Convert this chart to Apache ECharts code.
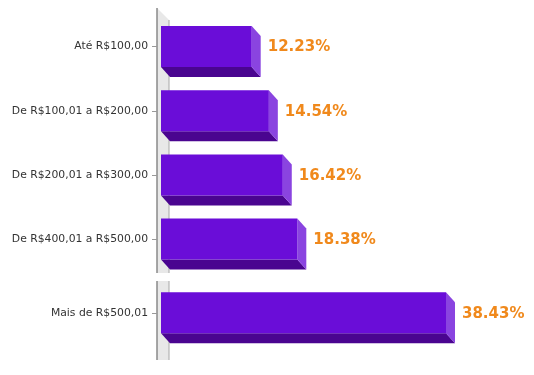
<!DOCTYPE html>
<html>
<head>
<meta charset="utf-8">
<script src="https://cdn.jsdelivr.net/npm/echarts@6/dist/echarts.min.js"></script>
<style>html,body{margin:0;padding:0;background:#fff}#c{width:534px;height:375px}</style>
</head>
<body>
<div id="c"></div>
<script>
const categoriesTop = ['Até R$100,00', 'De R$100,01 a R$200,00', 'De R$200,01 a R$300,00', 'De R$400,01 a R$500,00'];
const valuesTop = [12.23, 14.54, 16.42, 18.38];
const categoriesBottom = ['Mais de R$500,01'];
const valuesBottom = [38.43];

const PX_PER = 7.416;          // pixels per percent
const AX = 157;                // axis line x
const XMIN = -4 / PX_PER, XMAX = 50;
const GW = (XMAX - XMIN) * PX_PER;
const TOP1 = 14.4, H1 = 256.8, TOP2 = 282.8, H2 = 60;
const FRONT = '#6a0dd8', BOTTOMF = '#4a0590', SIDE = '#8a44e0';
const BAR_H = 41, DX = 9, DY = 10;

function renderItem(params, api) {
  const v = api.value(0), c = api.value(1);
  const pa = api.coord([XMIN, c]);
  const p0 = api.coord([0, c]), p1 = api.coord([v, c]);
  const y0 = p0[1] - BAR_H / 2, y1 = p0[1] + BAR_H / 2;
  const x0 = p0[0], x1 = p1[0];
  const ty = Math.round(p0[1]) + 0.5;
  return {
    type: 'group',
    children: [
      { type: 'line', shape: { x1: pa[0] - 5, y1: ty, x2: pa[0], y2: ty }, style: { stroke: '#999', lineWidth: 1 } },
      { type: 'polygon', shape: { points: [[x0, y1], [x1, y1], [x1 + DX, y1 + DY], [x0 + DX, y1 + DY]] }, style: { fill: BOTTOMF } },
      { type: 'polygon', shape: { points: [[x1, y0], [x1 + DX, y0 + DY], [x1 + DX, y1 + DY], [x1, y1]] }, style: { fill: SIDE } },
      { type: 'rect', shape: { x: x0, y: y0, width: x1 - x0, height: BAR_H }, style: { fill: FRONT } },
      { type: 'text', x: x1 + DX + 7, y: p0[1] + 1, style: { text: v.toFixed(2) + '%', fill: '#f0891c', font: 'bold 15px "DejaVu Sans"', textVerticalAlign: 'middle', textAlign: 'left' } }
    ]
  };
}

const axisX = (i) => ({ gridIndex: i, type: 'value', min: XMIN, max: XMAX, show: false });
const axisY = (i, cats) => ({
  gridIndex: i, type: 'category', data: cats, inverse: true,
  axisLine: { show: false },
  axisTick: { show: false },
  axisLabel: { color: '#333', fontSize: 10.8, fontFamily: 'DejaVu Sans', margin: 9 },
  splitLine: { show: false }
});

const BX = AX + 12;
const chart = echarts.init(document.getElementById('c'));
chart.setOption({
  animation: false,
  grid: [
    { left: AX, top: TOP1, width: GW, height: H1 },
    { left: AX, top: TOP2, width: GW, height: H2 }
  ],
  xAxis: [axisX(0), axisX(1)],
  yAxis: [axisY(0, categoriesTop), axisY(1, categoriesBottom)],
  graphic: [
    { type: 'polygon', z: -5, shape: { points: [[AX, 8], [BX, 20], [BX, 273], [AX, 273]] }, style: { fill: '#e8e8e8' } },
    { type: 'polygon', z: -5, shape: { points: [[AX, 281], [BX, 281], [BX, 360], [AX, 360]] }, style: { fill: '#e8e8e8' } },
    { type: 'line', z: -4, shape: { x1: AX, y1: 8, x2: AX, y2: 273 }, style: { stroke: '#8a8a8a', lineWidth: 1.5 } },
    { type: 'line', z: -4, shape: { x1: BX, y1: 20, x2: BX, y2: 273 }, style: { stroke: '#a8a8a8', lineWidth: 1 } },
    { type: 'line', z: -4, shape: { x1: AX, y1: 281, x2: AX, y2: 360 }, style: { stroke: '#8a8a8a', lineWidth: 1.5 } },
    { type: 'line', z: -4, shape: { x1: BX, y1: 281, x2: BX, y2: 360 }, style: { stroke: '#a8a8a8', lineWidth: 1 } }
  ],
  series: [
    { type: 'custom', xAxisIndex: 0, yAxisIndex: 0, z: 5, clip: false, renderItem, encode: { x: 0, y: 1 },
      data: valuesTop.map((v, i) => [v, i]) },
    { type: 'custom', xAxisIndex: 1, yAxisIndex: 1, z: 5, clip: false, renderItem, encode: { x: 0, y: 1 },
      data: valuesBottom.map((v, i) => [v, i]) }
  ]
});
</script>
</body>
</html>
